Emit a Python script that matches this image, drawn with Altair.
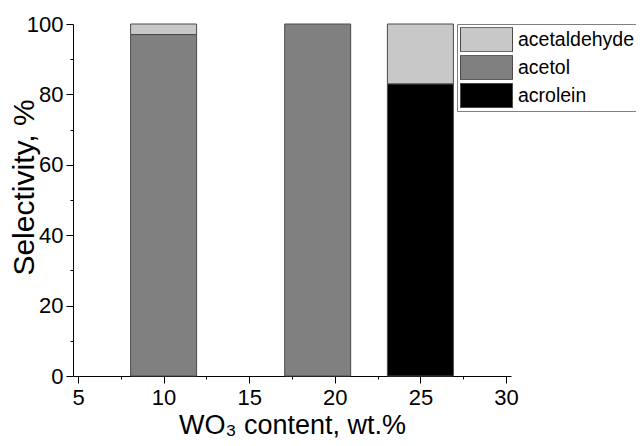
import altair as alt
import pandas as pd

# Data
wo3_content = [10, 19, 25]
acrolein = [0, 0, 83]
acetol = [97, 100, 0]
acetaldehyde = [3, 0, 17]

series_names = ["acetaldehyde", "acetol", "acrolein"]
series_colors = ["#c8c8c8", "#808080", "#000000"]
stack_rank = {"acrolein": 0, "acetol": 1, "acetaldehyde": 2}

x_ticks = [5, 7.5, 10, 12.5, 15, 17.5, 20, 22.5, 25, 27.5, 30]
y_ticks = [0, 10, 20, 30, 40, 50, 60, 70, 80, 90, 100]

rows = []
for i, xv in enumerate(wo3_content):
    for name, vals in (("acrolein", acrolein), ("acetol", acetol), ("acetaldehyde", acetaldehyde)):
        if vals[i] > 0:
            rows.append({"wo3": xv, "series": name, "value": vals[i], "rank": stack_rank[name]})
df = pd.DataFrame(rows)

FONT = "Liberation Sans, Arial, sans-serif"

x_axis = alt.Axis(
    values=x_ticks,
    title="WO₃ content, wt.%",
    labelExpr="datum.value % 5 === 0 ? datum.label : ''",
    tickSize={"condition": {"test": "datum.value % 5 === 0", "value": 7}, "value": 3},
    grid=False,
    domainColor="black",
    tickColor="black",
    labelColor="black",
    labelFont=FONT,
    labelFontSize=22,
    labelPadding=4,
    labelFlush=False,
    labelOverlap=False,
    titleFont=FONT,
    titleFontSize=27,
    titleFontWeight="normal",
    titleColor="black",
    titleX=219,
    titleY=57,
    titleBaseline="alphabetic",
)

y_axis = alt.Axis(
    values=y_ticks,
    title="Selectivity, %",
    labelExpr="datum.value % 20 === 0 ? datum.label : ''",
    tickSize={"condition": {"test": "datum.value % 20 === 0", "value": 7}, "value": 3},
    grid=False,
    domainColor="black",
    tickColor="black",
    labelColor="black",
    labelFont=FONT,
    labelFontSize=22,
    labelPadding=3,
    labelFlush=False,
    labelOverlap=False,
    titleFont=FONT,
    titleFontSize=30,
    titleFontWeight="normal",
    titleColor="black",
    titleX=-40,
    titleY=163,
    titleAngle=270,
    titleBaseline="alphabetic",
)

legend = alt.Legend(
    title=None,
    orient="none",
    legendX=384,
    legendY=0,
    strokeColor="#808080",
    fillColor="white",
    padding=3,
    symbolType="M-1,-0.47L1,-0.47L1,0.47L-1,0.47Z",
    symbolSize=2704,
    symbolStrokeColor="#4a4a4a",
    symbolStrokeWidth=1,
    symbolOpacity=1,
    clipHeight=25,
    rowPadding=3,
    labelFont=FONT,
    labelFontSize=19.5,
    labelColor="black",
    labelOffset=5,
)

chart = (
    alt.Chart(df)
    .mark_bar(size=66, stroke="#4a4a4a", strokeWidth=1, opacity=1)
    .encode(
        x=alt.X("wo3:Q", scale=alt.Scale(domain=[5, 30], nice=False, zero=False), axis=x_axis),
        y=alt.Y("value:Q", stack="zero", scale=alt.Scale(domain=[0, 100], nice=False), axis=y_axis),
        color=alt.Color("series:N", scale=alt.Scale(domain=series_names, range=series_colors), legend=legend),
        order=alt.Order("rank:Q", sort="ascending"),
    )
    .properties(
        width=438,
        height=352,
        autosize=alt.AutoSizeParams(type="none"),
        padding={"left": 65, "top": 16, "right": 125, "bottom": 62},
    )
    .configure_view(stroke=None)
)

chart.save("out.html", embed_options={"renderer": "svg", "actions": False})
